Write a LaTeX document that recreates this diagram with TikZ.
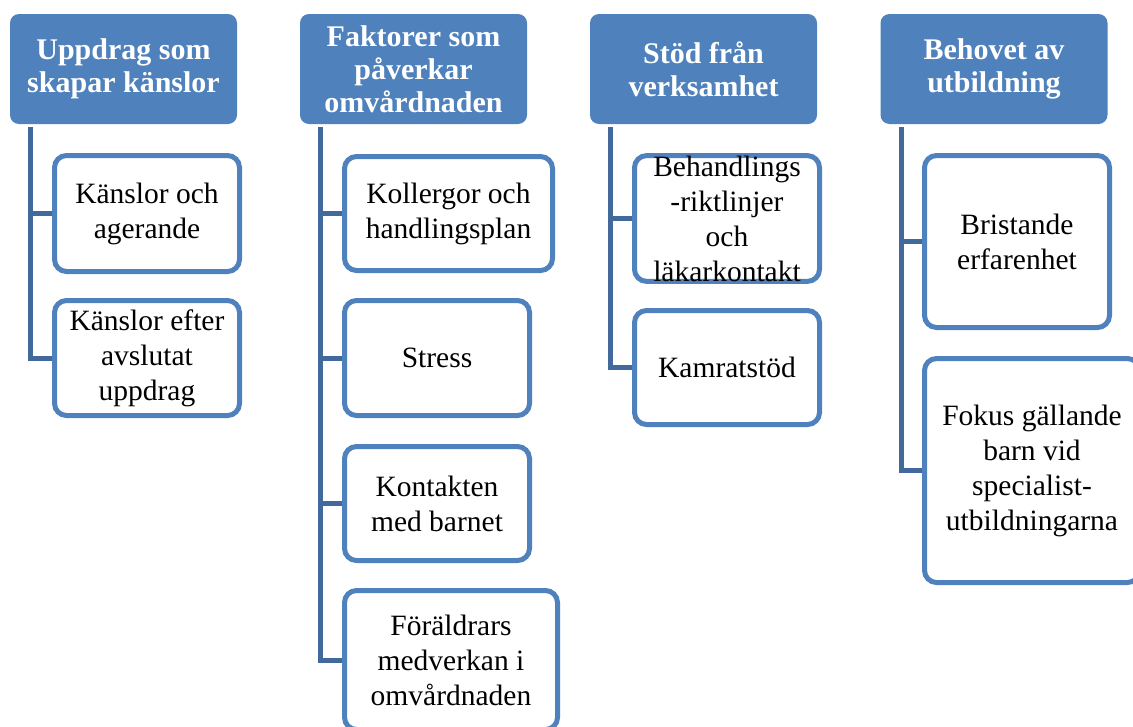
\documentclass[tikz,border=0pt]{standalone}
\usepackage{fontspec}
\setmainfont{Liberation Serif}
\definecolor{hdr}{HTML}{4F81BD}
\definecolor{conn}{HTML}{41699C}
\tikzset{
  x=1pt, y=-1pt,
  header/.style={fill=hdr, draw=none, rounded corners=9pt, text=white,
    font=\fontsize{30}{33}\selectfont\bfseries, align=center,
    minimum width=227pt, minimum height=110pt, inner sep=0pt},
  child/.style={fill=white, draw=hdr, line width=5pt, rounded corners=12pt,
    font=\fontsize{29.5}{35}\selectfont, align=center, inner sep=0pt},
  link/.style={draw=conn, line width=5pt}
}
\begin{document}
\begin{tikzpicture}
\useasboundingbox (0,0) rectangle (1133,726);
% headers
\node[header] (h1) at (123.5,69) {Uppdrag som\\skapar känslor};
\node[header] (h2) at (413.5,69) {Faktorer som\\påverkar\\omvårdnaden};
\node[header] (h3) at (703.5,69) {Stöd från\\verksamhet};
\node[header] (h4) at (994,69) {Behovet av\\utbildning};
% column 1
\node[child, minimum width=185pt, minimum height=116pt] (c11) at (147,213.5) {Känslor och\\agerande};
\node[child, minimum width=185pt, minimum height=115pt] (c12) at (147,358) {Känslor efter\\avslutat\\uppdrag};
% column 2
\node[child, minimum width=208pt, minimum height=114pt] (c21) at (448.5,213.5) {Kollergor och\\handlingsplan};
\node[child, minimum width=185pt, minimum height=115pt] (c22) at (437,358) {Stress};
\node[child, minimum width=185pt, minimum height=114pt] (c23) at (437,503.5) {Kontakten\\med barnet};
\node[child, minimum width=213pt, minimum height=139pt] (c24) at (451,660) {Föräldrars\\medverkan i\\omvårdnaden};
% column 3
\node[child, minimum width=185pt, minimum height=124pt] (c31) at (727,218.5) {Behandlings\\-riktlinjer\\och\\läkarkontakt};
\node[child, minimum width=185pt, minimum height=114pt] (c32) at (727,367.5) {Kamratstöd};
% column 4
\node[child, minimum width=185pt, minimum height=172pt] (c41) at (1017,241.5) {Bristande\\erfarenhet};
\node[child, minimum width=215pt, minimum height=224pt] (c42) at (1032,470.5) {Fokus gällande\\barn vid\\specialist-\\utbildningarna};
% connectors
\coordinate (t1) at ([xshift=21pt,yshift=-3pt]h1.south west);
\coordinate (t2) at ([xshift=21pt,yshift=-3pt]h2.south west);
\coordinate (t3) at ([xshift=21pt,yshift=-3pt]h3.south west);
\coordinate (t4) at ([xshift=21pt,yshift=-3pt]h4.south west);
\draw[link] (t1) |- (c11.west);
\draw[link] (t1) |- (c12.west);
\draw[link] (t2) |- (c21.west);
\draw[link] (t2) |- (c22.west);
\draw[link] (t2) |- (c23.west);
\draw[link] (t2) |- (c24.west);
\draw[link] (t3) |- (c31.west);
\draw[link] (t3) |- (c32.west);
\draw[link] (t4) |- (c41.west);
\draw[link] (t4) |- (c42.west);
\end{tikzpicture}
\end{document}
